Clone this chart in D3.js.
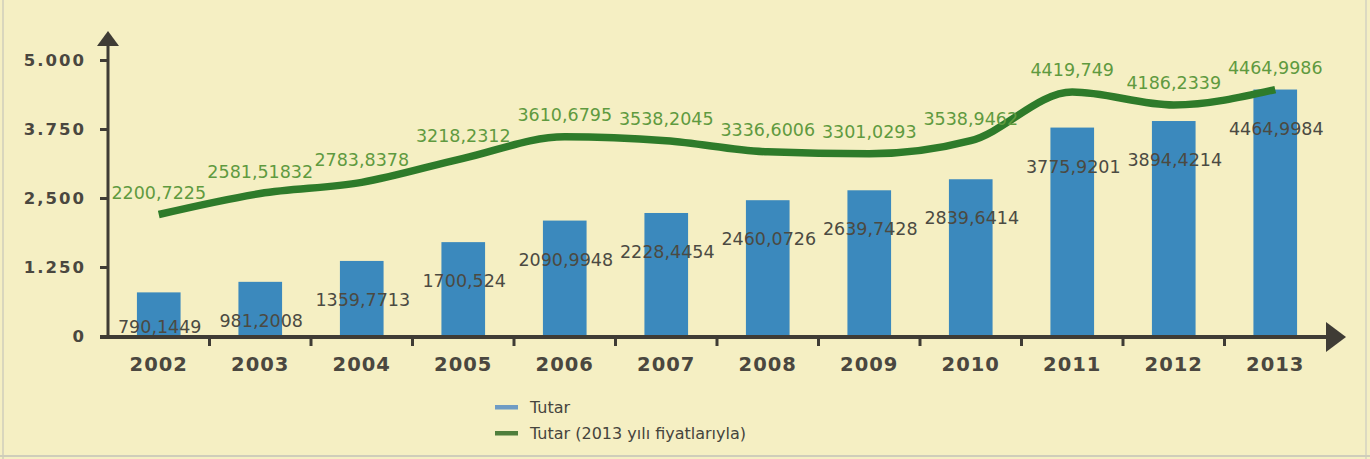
<!DOCTYPE html>
<html>
<head>
<meta charset="utf-8">
<script src="https://cdn.jsdelivr.net/npm/d3@7"></script>
<style>
  html, body { margin: 0; padding: 0; background: #f5efc3; }
  svg { display: block; }
</style>
</head>
<body>
<svg id="chart" width="1370" height="459"></svg>
<script>
const years = ["2002","2003","2004","2005","2006","2007","2008","2009","2010","2011","2012","2013"];
const tutar = [790.1449, 981.2008, 1359.7713, 1700.524, 2090.9948, 2228.4454, 2460.0726, 2639.7428, 2839.6414, 3775.9201, 3894.4214, 4464.9984];
const tutarLabels = ["790,1449","981,2008","1359,7713","1700,524","2090,9948","2228,4454","2460,0726","2639,7428","2839,6414","3775,9201","3894,4214","4464,9984"];
const tutar2013 = [2200.7225, 2581.51832, 2783.8378, 3218.2312, 3610.6795, 3538.2045, 3336.6006, 3301.0293, 3538.9462, 4419.749, 4186.2339, 4464.9986];
const tutar2013Labels = ["2200,7225","2581,51832","2783,8378","3218,2312","3610,6795","3538,2045","3336,6006","3301,0293","3538,9462","4419,749","4186,2339","4464,9986"];
const yTicks = [0, 1250, 2500, 3750, 5000];
const yTickLabels = ["0", "1.250", "2,500", "3.750", "5.000"];
const legendItems = ["Tutar", "Tutar (2013 yılı fiyatlarıyla)"];

const svg = d3.select("#chart");
const W = 1370, H = 459;
const axisColor = "#3f3c35";
const barColor = "#3b89bd";
const lineColor = "#2e7b2a";
const lineLabelColor = "#5f9a3f";
const barLabelColor = "#4b4a42";

// background and faint scan border
svg.append("rect").attr("width", W).attr("height", H).attr("fill", "#f5efc3");
svg.append("line").attr("x1", 3).attr("x2", 3).attr("y1", 0).attr("y2", H).attr("stroke", "#d9d6bd").attr("stroke-width", 2);
svg.append("line").attr("x1", 1366).attr("x2", 1366).attr("y1", 0).attr("y2", H).attr("stroke", "#dcd9c2").attr("stroke-width", 2);
svg.append("line").attr("x1", 0).attr("x2", W).attr("y1", 456).attr("y2", 456).attr("stroke", "#cfcdbb").attr("stroke-width", 2);

const x = d3.scaleBand().domain(years).range([108, 1326]).paddingInner(0.57).paddingOuter(0.285);
const y = d3.scaleLinear().domain([0, 5000]).range([336, 60]);
const cx = d => x(d) + x.bandwidth() / 2;

// bars
svg.append("g").selectAll("rect").data(years).join("rect")
  .attr("x", d => x(d))
  .attr("width", x.bandwidth())
  .attr("y", (d, i) => y(tutar[i]))
  .attr("height", (d, i) => y(0) - y(tutar[i]))
  .attr("fill", barColor);

// line
const line = d3.line()
  .x(d => cx(d.year))
  .y(d => y(d.v))
  .curve(d3.curveMonotoneX);
const lineData = years.map((yr, i) => ({year: yr, v: tutar2013[i]}));
svg.append("path").datum(lineData)
  .attr("d", line)
  .attr("fill", "none")
  .attr("stroke", lineColor)
  .attr("stroke-width", 7.5)
  .attr("stroke-linecap", "butt");

// bar labels
svg.append("g").selectAll("text").data(years).join("text")
  .attr("x", d => cx(d) + 1)
  .attr("y", (d, i) => Math.min(333, y(tutar[i]) + 45))
  .attr("text-anchor", "middle")
  .attr("font-family", "DejaVu Sans")
  .attr("font-size", 17.5)
  .attr("fill", barLabelColor)
  .text((d, i) => tutarLabels[i]);

// line labels
svg.append("g").selectAll("text").data(years).join("text")
  .attr("x", d => cx(d))
  .attr("y", (d, i) => y(tutar2013[i]) - 16)
  .attr("text-anchor", "middle")
  .attr("font-family", "DejaVu Sans")
  .attr("font-size", 17.5)
  .attr("fill", lineLabelColor)
  .text((d, i) => tutar2013Labels[i]);

// y axis
const yAxis = d3.axisLeft(y).tickValues(yTicks).tickSize(8).tickPadding(14)
  .tickFormat((d, i) => yTickLabels[i]);
const gy = svg.append("g").attr("transform", "translate(108,0)").call(yAxis);
gy.select(".domain").remove();
gy.selectAll(".tick line").attr("stroke", axisColor).attr("stroke-width", 3);
gy.selectAll(".tick text")
  .attr("font-family", "DejaVu Sans").attr("font-weight", "bold")
  .attr("font-size", 16.5).attr("letter-spacing", 2)
  .attr("fill", "#4a473f").attr("dy", "0.36em");
svg.append("line").attr("x1", 108).attr("x2", 108).attr("y1", 338).attr("y2", 44)
  .attr("stroke", axisColor).attr("stroke-width", 3);
svg.append("path").attr("d", "M97,46 L108,31 L119,46 Z").attr("fill", axisColor);

// x axis
svg.append("line").attr("x1", 100).attr("x2", 1330).attr("y1", 337).attr("y2", 337)
  .attr("stroke", axisColor).attr("stroke-width", 4);
svg.append("path").attr("d", "M1326,322 L1346,337 L1326,352 Z").attr("fill", axisColor);
const xAxis = d3.axisBottom(x).tickSize(0).tickPadding(0);
const gx = svg.append("g").attr("transform", "translate(0,337)").call(xAxis);
gx.select(".domain").remove();
gx.selectAll(".tick text")
  .attr("font-family", "DejaVu Sans").attr("font-weight", "bold")
  .attr("font-size", 19.5).attr("letter-spacing", 1)
  .attr("fill", "#4a473f").attr("y", 34).attr("dy", 0);
// boundary tick marks
svg.append("g").selectAll("line").data(years.slice(1)).join("line")
  .attr("x1", d => x(d) - x.step() * x.paddingInner() / 2)
  .attr("x2", d => x(d) - x.step() * x.paddingInner() / 2)
  .attr("y1", 337).attr("y2", 346)
  .attr("stroke", axisColor).attr("stroke-width", 3);

// legend
const legend = svg.append("g").attr("transform", "translate(495,407)");
legendItems.forEach((t, i) => {
  const g = legend.append("g").attr("transform", `translate(0,${i * 26})`);
  g.append("rect").attr("x", 0).attr("y", -2).attr("width", 23).attr("height", 4.5)
    .attr("fill", i === 0 ? "#6f9cc4" : "#4f7e3c");
  g.append("text").attr("x", 35).attr("y", 0).attr("dy", "0.35em")
    .attr("font-family", "DejaVu Sans").attr("font-size", 16)
    .attr("fill", "#45443d").text(t);
});
</script>
</body>
</html>
